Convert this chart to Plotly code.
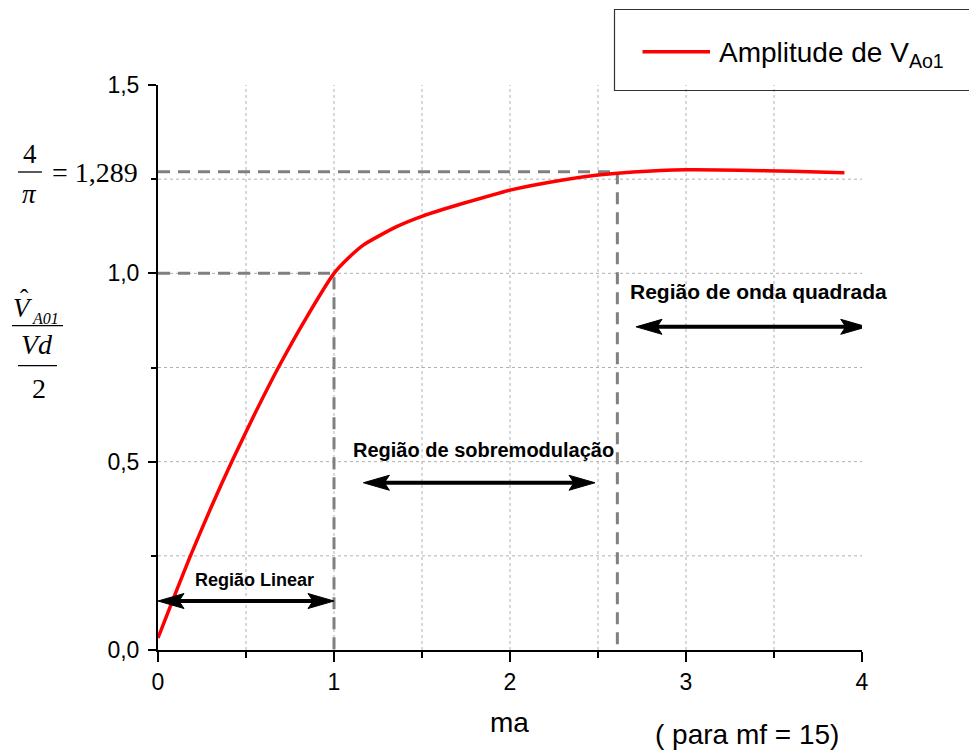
import plotly.graph_objects as go

# ---------------- data ----------------
ma = [0.0, 0.09, 0.18, 0.30, 0.419, 0.55, 0.684, 0.84, 1.0, 1.08, 1.166, 1.356,
      1.503, 1.735, 2.0, 2.30, 2.50, 2.70, 3.0, 3.3, 3.6, 3.9]
amp = [0.032, 0.14, 0.245, 0.377, 0.5, 0.627, 0.75, 0.880, 1.0, 1.04, 1.075, 1.124,
       1.152, 1.186, 1.221, 1.248, 1.261, 1.269, 1.275, 1.274, 1.271, 1.267]

# reference (dashed) lines
lin_ref_x = [0, 1, 1]
lin_ref_y = [1, 1, 0]
sq_ref_x = [0, 2.61, 2.61]
sq_ref_y = [1.27, 1.27, 0]

# region arrows: (x_left, x_right, y)
region_names = ["Região Linear", "Região de sobremodulação", "Região de onda quadrada"]
arrow_x0 = [0.0, 1.167, 2.716]
arrow_x1 = [1.0, 2.483, 4.027]
arrow_y = [0.13, 0.444, 0.858]
label_x = [0.547, 1.847, 3.41]
label_y = [0.186, 0.531, 0.951]
label_size = [18, 20, 21]

# ---------------- geometry helpers ----------------
W, H = 969, 753
L, R, T, B = 158, 107, 85, 103
PW, PH = W - L - R, H - T - B
XMAX, YMAX = 4.0, 1.5


def px(x):
    return (x - L) / PW


def py(y):
    return (H - B - y) / PH


dxp = XMAX / PW   # data units per pixel (x)
dyp = YMAX / PH   # data units per pixel (y)

ARIAL = "Arial, Liberation Sans, sans-serif"
TIMES = "Times New Roman, Liberation Serif, serif"

fig = go.Figure()

# dashed reference lines
for xs, ys in [(lin_ref_x, lin_ref_y), (sq_ref_x, sq_ref_y)]:
    fig.add_trace(go.Scatter(x=xs, y=ys, mode="lines", showlegend=False,
                             line=dict(color="#808080", width=3, dash="12px,8px"),
                             hoverinfo="skip"))

# main curve
fig.add_trace(go.Scatter(x=ma, y=amp, mode="lines", name="Amplitude de V<sub>Ao1</sub>",
                         line=dict(color="#ff0000", width=3.5, shape="spline", smoothing=0.6),
                         showlegend=False))

shapes = []
# grid lines
gx = 0.5
while gx < XMAX - 1e-9:
    shapes.append(dict(type="line", xref="x", yref="y", x0=gx, x1=gx, y0=0, y1=YMAX,
                       line=dict(color="#b0b0b0", width=1, dash="3px,3px"), layer="below"))
    gx += 0.5
gy = 0.25
while gy < YMAX - 1e-9:
    shapes.append(dict(type="line", xref="x", yref="y", x0=0, x1=XMAX, y0=gy, y1=gy,
                       line=dict(color="#b0b0b0", width=1, dash="3px,3px"), layer="below"))
    gy += 0.25

# region arrows (shaft + two heads)
HL, HN, HH = 26, 21, 7.5  # head length, notch depth, half height (px)
for x0, x1, y in zip(arrow_x0, arrow_x1, arrow_y):
    shapes.append(dict(type="line", xref="x", yref="y", x0=x0 + 10 * dxp, x1=x1 - 10 * dxp,
                       y0=y, y1=y, line=dict(color="black", width=4)))
    for tip, sgn in [(x0, 1), (x1, -1)]:
        p = (f"M{tip},{y} L{tip + sgn * HL * dxp},{y + HH * dyp} "
             f"L{tip + sgn * HN * dxp},{y} L{tip + sgn * HL * dxp},{y - HH * dyp} Z")
        shapes.append(dict(type="path", xref="x", yref="y", path=p,
                           fillcolor="black", line=dict(color="black", width=1)))

# legend box (manual)
shapes.append(dict(type="rect", xref="paper", yref="paper", x0=px(614.5), x1=px(985),
                   y0=py(90.5), y1=py(9.5), line=dict(color="#333333", width=1.2)))
shapes.append(dict(type="line", xref="paper", yref="paper", x0=px(642.5), x1=px(710),
                   y0=py(51.7), y1=py(51.7), line=dict(color="#ff0000", width=3.5)))

# fraction bars of the y-axis label
for x0, x1, y in [(18, 42, 172), (12, 63, 325.7), (18, 57, 365.7)]:
    shapes.append(dict(type="line", xref="paper", yref="paper", x0=px(x0), x1=px(x1),
                       y0=py(y), y1=py(y), line=dict(color="black", width=1.3)))

annotations = []
# region labels
for name, lx, ly, s in zip(region_names, label_x, label_y, label_size):
    annotations.append(dict(x=lx, y=ly, xref="x", yref="y", text=f"<b>{name}</b>",
                            showarrow=False, font=dict(family=ARIAL, size=s, color="black")))


def ann(text, x, y, size, family=ARIAL, xanchor="center", yanchor="middle", italic=False):
    t = f"<i>{text}</i>" if italic else text
    annotations.append(dict(x=px(x), y=py(y), xref="paper", yref="paper", text=t,
                            showarrow=False, xanchor=xanchor, yanchor=yanchor,
                            font=dict(family=family, size=size, color="black")))


# legend text
ann("Amplitude de V<sub>Ao1</sub>", 716.5, 55, 28, xanchor="left")
# axis title and note
ann("ma", 509.5, 722, 28)
ann("( para mf = 15)", 747, 734, 28)
# 4/pi = 1,289
ann("4", 29.5, 153.5, 27, family=TIMES)
ann("π", 29.5, 194, 27, family=TIMES, italic=True)
ann("= 1,289", 140, 172.5, 28, family=TIMES, xanchor="right")
# V_A01 / (Vd/2)
ann("V", 23, 308, 27, family=TIMES, italic=True)
ann("ˆ", 24.5, 298, 25, family=TIMES)
ann("A01", 45, 318, 16, family=TIMES, italic=True)
ann("Vd", 36.5, 344, 28, family=TIMES, italic=True)
ann("2", 38.5, 388, 28, family=TIMES)

fig.update_layout(
    width=W, height=H,
    margin=dict(l=L, r=R, t=T, b=B, pad=0),
    paper_bgcolor="white", plot_bgcolor="white",
    separators=",.",
    showlegend=False,
    shapes=shapes,
    annotations=annotations,
    font=dict(family=ARIAL, color="black"),
    xaxis=dict(range=[0, XMAX], dtick=1, tickformat="d", showgrid=False, zeroline=False,
               showline=True, linecolor="black", linewidth=2,
               ticks="outside", ticklen=10, tickwidth=2, tickcolor="black",
               tickfont=dict(family=ARIAL, size=23, color="black"),
               minor=dict(dtick=0.5, ticks="outside", ticklen=6, tickwidth=1.5,
                          tickcolor="black", showgrid=False)),
    yaxis=dict(range=[0, YMAX], dtick=0.5, tickformat=".1f", showgrid=False, zeroline=False,
               showline=True, linecolor="black", linewidth=2,
               ticks="outside", ticklen=8, tickwidth=2, tickcolor="black",
               ticklabelstandoff=4,
               tickfont=dict(family=ARIAL, size=23, color="black"),
               minor=dict(dtick=0.25, ticks="outside", ticklen=5, tickwidth=1.5,
                          tickcolor="black", showgrid=False)),
)

fig.write_html("out.html")
